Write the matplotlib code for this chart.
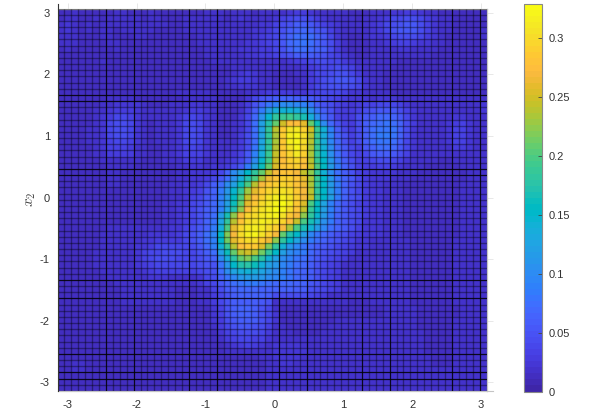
import numpy as np
import matplotlib
matplotlib.use("Agg")
import matplotlib.pyplot as plt
from matplotlib.colors import ListedColormap

plt.rcParams['font.family'] = ['Liberation Sans', 'DejaVu Sans']
plt.rcParams['mathtext.fontset'] = 'cm'

# values, top row first, in units of 0.005 above a small baseline
cell_unit = 0.005
baseline_units = 1
rows = [
[4,4,5,4,4,4,4,4,5,5,4,4,4,5,4,4,4,4,4,4,4,5, 5,5,4,5,5,5,4,5,5, 5,5,6,7,7,6,5,5,5,5,5,4,4,4, 5,5,5,6,6,7,7,6,5,5,4,4,4,4,4,4,4],
[4,5,5,4,4,5,4,5,5,5,5,5,4,5,5,4,4,4,5,5,5,5, 5,5,4,5,6,5,5,5,5, 6,8,9,10,10,9,7,6,5,5,5,5,4,5, 5,6,7,9,9,10,10,9,7,6,5,5,4,4,4,4,4],
[5,6,5,4,5,4,5,5,5,5,5,5,5,5,5,5,4,4,5,5,5,5, 5,5,5,5,5,5,5,6,6, 8,10,11,13,13,12,10,8,7,6,5,5,5,5, 6,7,9,10,11,12,12,10,8,6,5,5,4,4,4,4,4],
[5,6,5,4,5,4,5,5,4,5,5,5,5,5,4,4,4,4,5,5,5,5, 5,5,5,5,5,5,6,6,7, 9,11,13,14,15,14,12,11,8,6,5,5,5,5, 6,7,9,11,12,12,12,10,8,6,5,5,4,4,4,4,5],
[5,5,5,4,4,4,5,5,4,4,4,5,5,4,4,4,4,4,4,4,5,5, 5,5,5,5,5,5,6,7,8, 9,12,14,16,16,16,14,12,9,6,5,4,4,5, 6,6,7,9,10,10,10,9,7,6,5,4,4,4,4,4,5],
[5,5,5,4,4,4,4,5,5,4,4,4,4,4,4,4,4,4,4,4,5,5, 5,5,5,5,5,6,6,7,8, 9,12,15,16,17,16,14,12,10,7,5,4,4,4, 5,5,6,7,8,8,7,6,6,5,5,4,4,4,4,4,4],
[4,5,4,4,4,4,4,4,5,4,4,4,4,4,4,4,4,4,4,4,4,5, 5,5,5,5,6,6,6,7,7, 9,11,14,16,16,15,14,13,10,7,5,4,4,4, 5,5,5,5,6,6,5,5,5,5,4,4,4,4,4,4,4],
[4,4,4,4,4,4,4,4,4,4,4,4,4,4,4,4,4,4,4,4,4,5, 5,5,5,5,5,6,6,7,7, 8,10,11,13,13,13,12,11,9,8,6,5,4,4, 5,5,5,5,5,5,5,5,5,4,4,4,4,4,4,4,4],
[4,4,4,4,4,4,5,4,4,4,4,4,4,4,4,4,4,4,4,4,4,4, 5,5,5,5,5,5,5,5,5, 5,5,6,7,8,9,10,10,9,9,7,6,5,5, 5,5,5,5,4,4,4,4,4,4,4,4,4,4,4,4,4],
[4,4,4,4,4,4,4,4,4,4,4,4,4,4,4,4,4,4,4,4,4,4, 4,4,4,5,5,5,5,5,5, 5,5,5,5,6,7,8,9,9,10,9,8,6,5, 5,5,5,4,4,4,4,4,4,4,4,4,4,4,4,4,4],
[4,4,4,4,4,4,4,4,4,4,4,4,4,4,4,4,4,4,4,4,4,4, 4,4,4,5,6,7,6,5,5, 4,4,4,5,5,7,9,9,10,11,11,9,7,5, 5,5,4,4,4,4,4,4,4,4,4,4,4,4,4,4,4],
[4,4,4,4,4,4,4,4,4,4,4,4,4,4,4,4,4,4,4,4,4,4, 4,4,5,6,7,7,6,5,5, 4,4,4,4,5,7,8,10,11,12,12,11,9,6, 5,5,4,4,4,4,4,4,4,4,4,4,4,4,4,4,4],
[4,4,4,4,4,4,4,4,4,4,4,4,4,4,4,4,4,4,4,4,4,4, 4,4,5,5,6,6,6,5,5, 4,4,4,4,5,7,9,10,11,11,11,10,9,6, 5,5,4,4,4,4,4,4,4,4,4,4,4,4,4,4,4],
[4,4,4,4,4,4,4,4,4,4,4,4,4,4,4,4,4,5,5,5,5,5, 4,4,4,4,4,5,5,6,7, 7,7,7,6,6,8,8,9,9,9,8,6,6,5, 5,5,5,4,4,4,4,4,4,4,4,4,4,4,4,4,4],
[4,4,4,4,4,4,4,5,5,5,5,4,4,4,4,4,4,4,5,5,5,5, 5,4,4,4,4,6,9,11,12, 13,14,14,13,13,12,11,10,9,8,7,6,6,6, 5,6,6,6,5,5,5,5,5,5,5,5,5,5,5,5,5],
[4,4,4,4,4,4,5,5,6,6,6,6,5,4,4,4,5,5,5,6,6,5, 5,4,4,4,5,7,11,14,17, 19,21,21,20,19,17,13,11,10,8,7,6,7,8, 8,9,9,9,8,6,5,5,5,5,5,5,5,5,5,5,6],
[4,4,4,4,4,5,5,6,7,7,7,6,5,5,5,5,5,5,6,7,7,6, 5,4,4,4,5,8,13,18,24, 28,29,29,28,26,22,17,13,11,8,7,7,8,10, 11,12,12,12,10,8,6,5,5,5,5,5,5,5,5,5,6],
[4,4,4,4,4,5,6,7,9,9,8,6,5,5,5,5,5,6,8,9,8,6, 5,4,4,4,6,9,15,22,30, 37,39,40,38,34,28,21,15,12,8,7,7,10,12, 13,15,15,14,12,9,6,5,5,5,5,5,6,6,5,5,5],
[4,4,4,4,4,5,6,9,10,10,9,6,5,4,5,5,5,6,9,10,9,6, 5,4,4,5,6,9,16,25,35, 43,51,56,56,53,43,33,21,15,11,8,7,10,13, 15,16,17,16,14,10,7,5,5,5,5,6,7,8,6,5,5],
[4,4,4,4,5,5,6,9,10,10,9,6,5,4,5,5,5,6,9,10,9,6, 5,4,4,5,6,9,16,25,37, 49,58,62,63,59,51,39,29,19,13,9,7,10,13, 16,17,17,17,14,10,6,5,5,5,5,6,8,8,6,5,5],
[4,4,4,4,5,5,6,9,10,10,9,6,5,4,5,5,5,6,9,10,9,6, 5,4,4,5,7,10,16,25,37, 48,59,64,65,61,49,37,28,20,14,11,8,10,13, 16,18,18,17,14,10,6,5,5,5,5,6,8,8,6,5,5],
[4,4,4,4,5,5,6,8,9,9,8,6,5,4,5,5,5,6,9,10,9,6, 5,5,5,5,7,10,16,26,37, 48,58,64,65,61,49,37,28,20,15,11,8,10,13, 16,17,17,16,13,9,6,5,5,5,5,6,8,8,6,5,5],
[4,4,4,4,4,5,6,8,8,8,7,5,5,4,4,5,5,6,8,9,8,6, 5,5,5,6,7,10,17,27,38, 49,58,62,65,60,48,37,29,21,15,12,9,8,12, 14,16,16,15,12,9,6,5,5,5,5,5,7,7,6,5,5],
[4,4,4,4,4,5,5,7,7,7,7,5,5,4,4,5,5,6,8,8,8,6, 5,5,5,6,8,12,19,28,39, 50,57,60,63,59,48,38,30,22,16,12,9,8,9, 12,13,13,12,10,8,5,5,5,5,5,5,5,5,5,5,5],
[4,4,4,4,4,4,5,5,5,5,5,5,4,4,4,5,5,5,7,7,7,5, 5,5,6,7,9,13,21,30,40, 51,56,59,60,57,49,39,31,23,17,13,10,8,8, 9,10,10,9,8,6,5,5,5,5,4,4,5,5,5,5,5],
[4,4,4,4,4,4,4,5,5,5,5,4,4,4,4,4,4,5,5,6,6,5, 6,6,7,9,12,18,25,33,43, 52,57,58,59,56,50,41,32,24,18,14,11,8,7, 7,8,8,7,6,5,5,5,4,4,4,4,4,5,5,5,5],
[4,4,4,4,4,4,4,5,5,4,4,4,4,4,4,4,4,5,5,6,6,6, 7,9,14,21,25,31,37,43,50, 55,57,57,55,50,46,37,29,21,16,13,11,8,7, 6,6,6,6,5,5,5,4,4,4,4,4,4,4,5,5,5],
[4,4,4,4,4,4,4,5,5,4,4,4,4,4,4,4,4,5,5,6,6,7, 9,12,16,22,28,35,41,48,54, 57,59,59,57,53,48,39,31,23,17,14,12,9,7, 6,6,6,5,5,5,4,4,4,4,4,4,4,4,5,5,5],
[4,4,4,4,4,4,4,5,5,4,4,4,4,4,4,4,5,5,6,6,7,9, 13,16,21,25,33,41,49,55,58, 59,60,59,57,54,48,38,31,24,18,14,11,9,7, 6,6,5,5,5,4,4,4,4,4,4,4,4,5,5,5,5],
[4,4,4,4,4,4,4,4,4,4,4,4,4,4,4,4,5,5,6,7,8,11, 14,18,23,30,38,47,53,58,60, 61,62,61,58,55,49,38,31,24,18,14,11,9,7, 6,6,5,5,5,4,4,4,4,4,4,4,4,5,5,5,5],
[4,4,4,4,4,4,4,4,4,4,4,4,4,4,4,4,5,5,6,8,9,12, 14,19,24,32,41,50,56,59,62, 64,64,62,59,55,50,38,31,25,18,14,11,10,7, 6,6,5,5,5,4,4,4,4,4,4,4,4,5,5,5,5],
[4,4,4,4,4,4,4,4,4,4,4,4,4,4,4,5,5,6,6,9,10,12, 15,19,25,33,43,53,58,61,63, 65,66,63,58,52,41,32,26,19,15,12,10,8,7, 6,6,5,5,5,4,4,4,4,4,4,4,4,5,5,5,5],
[4,4,4,4,4,4,4,4,4,4,4,4,4,4,4,5,5,6,7,9,11,13, 15,19,26,35,46,56,60,62,64, 66,65,61,57,50,39,31,25,19,15,12,10,9,7, 6,6,5,5,5,4,4,4,4,4,4,4,4,5,5,5,5],
[4,4,4,4,4,4,4,4,4,4,4,4,4,4,4,5,5,6,7,9,11,13, 16,24,34,46,55,60,61,63,64, 65,62,58,55,46,37,30,24,18,14,12,10,9,7, 6,6,5,5,5,4,4,4,4,4,4,4,4,5,5,5,5],
[4,4,4,4,4,4,4,4,4,4,4,4,4,4,4,5,5,6,7,9,11,14, 17,26,37,49,57,61,62,64,63, 62,60,56,50,41,34,28,22,18,14,12,10,9,6, 6,6,5,5,5,4,4,4,4,4,4,4,4,5,5,5,5],
[4,4,4,4,4,4,4,5,5,5,5,5,5,5,5,5,6,6,8,10,12,14, 18,28,41,53,60,63,64,63,61, 59,55,48,41,34,29,24,20,16,14,12,10,8,6, 6,6,5,5,5,4,4,4,4,4,4,4,4,5,5,5,5],
[4,4,4,4,4,4,5,5,5,5,5,5,5,6,6,6,6,7,9,11,13,16, 20,31,45,55,61,64,65,62,59, 55,43,35,31,25,20,17,15,13,11,10,8,7,6, 6,6,5,5,5,4,4,4,4,4,4,4,4,5,5,5,5],
[4,4,4,4,4,4,5,5,5,5,5,5,6,6,7,7,7,7,9,11,13,16, 19,31,44,53,59,61,61,58,54, 46,37,31,26,21,18,16,14,12,11,9,8,6,6, 5,5,5,5,5,5,4,4,4,4,4,4,5,5,5,5,5],
[4,4,4,4,4,4,5,5,5,5,5,6,6,7,9,9,9,9,9,10,12,15, 19,29,39,49,56,58,58,52,45, 37,29,23,20,17,15,13,12,11,9,8,7,6,6, 5,5,5,5,5,5,4,4,4,4,4,4,5,5,5,5,5],
[4,4,4,4,4,5,5,5,5,5,5,6,8,9,9,10,10,10,9,9,11,13, 16,25,33,43,49,51,49,44,37, 31,25,21,19,18,15,13,11,10,9,8,7,5,5, 5,5,5,5,5,5,4,4,4,4,4,4,5,5,5,5,5],
[4,4,4,4,4,5,5,5,5,5,5,6,8,9,10,10,10,9,9,9,10,12, 14,21,28,36,43,45,41,36,29, 25,21,19,17,16,14,12,10,9,8,7,5,5,5, 5,5,5,5,5,5,4,4,4,4,4,4,5,5,5,5,5],
[4,4,4,4,4,5,5,5,5,5,5,6,7,8,9,9,9,9,9,9,10,11, 11,17,23,31,35,36,33,29,25, 23,20,18,16,15,13,11,9,8,7,5,5,5,5, 5,5,5,5,5,5,4,4,4,4,4,4,5,5,5,5,5],
[4,4,4,4,4,4,5,5,5,5,5,5,6,7,8,8,8,8,8,8,9,10, 11,16,21,26,28,29,28,26,23, 21,19,17,15,14,13,11,9,8,7,5,5,5,5, 5,5,5,5,5,5,4,4,4,4,4,4,5,5,5,5,5],
[4,4,4,4,4,4,4,5,5,5,5,5,5,6,6,6,5,5,5,5,6,9, 10,14,17,20,23,24,24,23,21, 20,19,17,15,14,13,11,9,8,7,5,5,5,5, 5,5,5,5,5,5,4,4,4,4,4,4,5,5,5,5,5],
[4,4,4,4,4,4,4,4,5,5,5,5,5,5,5,5,5,5,5,5,6,8, 9,12,14,16,17,18,18,17,16, 15,15,15,14,14,12,11,9,8,7,5,5,5,5, 5,5,5,5,5,5,4,4,4,4,4,4,5,5,5,5,5],
[4,4,4,4,4,4,4,4,4,5,5,5,5,5,5,5,5,4,4,4,5,5, 8,10,13,14,15,15,15,14,14, 14,14,14,13,13,11,10,9,8,7,5,5,5,5, 5,5,5,5,5,5,4,4,4,4,4,4,5,5,5,5,5],
[4,4,4,4,4,4,4,4,4,5,5,5,5,5,5,5,5,4,4,4,5,5, 7,9,11,13,14,14,14,14,13, 10,10,10,10,10,9,8,7,5,5,5,5,5,5, 5,5,5,5,5,5,4,4,4,4,4,4,5,5,5,5,5],
[4,4,4,4,4,4,4,4,4,5,5,5,5,5,5,5,5,4,4,4,5,5, 7,9,11,13,13,13,13,12,11, 5,5,5,5,5,5,5,5,5,5,5,4,4,4, 5,5,5,5,5,5,4,4,4,4,4,4,5,5,5,5,5],
[4,4,4,4,4,4,4,4,4,4,4,4,4,4,4,4,4,4,4,4,4,4, 6,8,11,13,14,14,13,11,9, 5,4,4,4,4,4,4,4,4,4,4,4,4,4, 4,4,5,5,5,5,5,4,4,4,4,4,4,5,5,5,5],
[4,4,4,4,4,4,4,4,4,4,4,4,4,4,4,4,4,4,4,4,4,4, 6,8,11,13,14,14,13,11,9, 6,4,4,4,4,4,4,4,4,4,4,4,4,4, 4,4,5,5,5,5,5,4,4,4,4,4,4,5,5,5,5],
[4,4,4,4,4,4,4,4,4,4,4,4,4,4,4,4,4,4,4,4,4,4, 6,7,10,12,13,13,13,11,9, 6,4,4,4,4,4,4,4,4,5,5,5,5,5, 5,5,5,5,5,5,5,4,4,4,4,4,5,5,5,5,5],
[4,4,4,4,4,4,4,4,4,4,4,4,4,4,4,4,4,4,4,4,4,4, 5,7,9,11,12,12,11,10,8, 5,5,4,4,4,4,4,4,5,5,5,5,5,5, 5,5,5,5,5,5,5,4,4,4,4,4,5,5,5,5,5],
[4,4,4,4,4,4,4,4,4,4,4,4,4,4,4,4,4,4,4,4,4,4, 4,6,8,9,10,10,10,9,7, 5,5,5,4,4,4,4,5,5,5,5,5,5,5, 5,5,5,5,5,5,5,5,4,4,4,4,5,5,5,5,5],
[4,4,4,4,4,4,4,4,4,4,4,4,4,4,4,4,4,4,4,4,4,4, 4,5,7,8,9,9,8,8,6, 5,5,5,5,5,5,5,5,5,5,5,5,5,5, 5,5,5,5,5,5,5,5,4,4,4,4,5,5,5,5,5],
[4,4,4,4,4,4,4,4,4,4,4,4,4,4,4,4,4,4,4,4,4,4, 4,4,5,6,7,8,7,6,5, 6,6,6,6,5,5,5,5,5,5,5,5,5,5, 5,5,5,5,5,5,5,5,4,4,4,4,5,5,5,5,5],
[4,4,4,4,4,4,4,4,4,4,4,4,4,4,4,4,4,4,4,4,4,4, 4,4,5,5,5,5,5,5,5, 6,6,6,6,6,5,5,5,5,5,5,5,5,5, 5,5,5,5,5,5,5,5,4,4,4,4,5,5,5,5,5],
[4,4,4,4,4,4,4,4,4,4,4,4,4,4,4,4,4,4,4,4,4,4, 4,4,4,4,4,4,4,5,5, 6,6,6,6,5,5,5,5,5,5,5,5,5,5, 5,5,5,5,5,5,5,5,5,4,4,4,5,5,5,5,5],
[4,4,5,5,4,4,4,4,4,4,4,4,4,4,4,4,4,4,4,4,4,4, 4,4,4,4,4,4,4,4,5, 5,6,6,5,5,5,5,5,5,5,5,5,5,5, 5,5,5,5,5,5,5,5,5,4,4,4,5,5,5,5,5],
[4,4,5,5,4,4,4,4,4,4,4,4,4,4,4,4,4,4,4,4,4,4, 4,4,4,4,4,4,4,4,5, 5,5,5,5,5,5,5,5,5,5,5,5,5,5, 5,5,5,5,5,5,5,5,5,5,5,5,5,5,5,5,5],
[4,4,4,4,4,4,4,4,4,4,4,4,4,4,4,4,4,4,4,4,4,4, 4,4,4,4,4,4,4,4,5, 5,5,5,5,5,5,5,5,5,5,5,5,5,5, 5,5,5,5,5,5,5,5,5,5,5,5,5,5,5,5,5],
[4,4,4,4,4,4,4,4,4,4,4,4,4,4,4,4,4,4,4,4,4,4, 4,4,4,4,4,4,4,4,5, 5,5,5,5,5,5,5,5,5,5,5,5,5,5, 5,5,5,5,5,5,5,5,5,5,5,5,5,5,5,5,5],
[4,4,4,4,4,4,4,4,4,4,4,4,4,4,4,4,4,4,4,4,4,4, 4,4,4,4,4,4,4,4,5, 5,5,5,5,5,5,5,5,5,5,5,5,5,5, 5,5,5,5,5,5,5,5,5,5,5,5,5,5,5,5,5],
]
x_ticks = [-3, -2, -1, 0, 1, 2, 3]
y_ticks = [-3, -2, -1, 0, 1, 2, 3]
cbar_ticks = [0, 0.05, 0.1, 0.15, 0.2, 0.25, 0.3]
cbar_labels = ['0', '0.05', '0.1', '0.15', '0.2', '0.25', '0.3']
dark_cols = [7, 11, 19, 23, 32, 36, 44, 48, 57, 61]
dark_rows = [14, 15, 26, 27, 44, 47, 56, 59, 60]

bad = [i for i, r in enumerate(rows) if len(r) != 62]
assert not bad and len(rows) == 62, f"bad rows {bad} n={len(rows)} {[len(rows[i]) for i in bad]}"

parula = ListedColormap([
(0.2422,0.1504,0.6603),(0.2504,0.1650,0.7076),(0.2578,0.1818,0.7511),(0.2647,0.1978,0.7952),
(0.2706,0.2147,0.8364),(0.2751,0.2342,0.8710),(0.2783,0.2559,0.8991),(0.2803,0.2782,0.9221),
(0.2813,0.3006,0.9414),(0.2810,0.3228,0.9579),(0.2795,0.3447,0.9717),(0.2760,0.3667,0.9829),
(0.2699,0.3892,0.9906),(0.2602,0.4123,0.9952),(0.2440,0.4358,0.9988),(0.2206,0.4603,0.9973),
(0.1963,0.4847,0.9892),(0.1834,0.5074,0.9798),(0.1786,0.5289,0.9682),(0.1764,0.5499,0.9520),
(0.1687,0.5703,0.9359),(0.1540,0.5902,0.9218),(0.1460,0.6091,0.9079),(0.1380,0.6276,0.8973),
(0.1248,0.6459,0.8883),(0.1113,0.6635,0.8763),(0.0952,0.6798,0.8598),(0.0689,0.6948,0.8394),
(0.0297,0.7082,0.8163),(0.0036,0.7203,0.7917),(0.0067,0.7312,0.7660),(0.0433,0.7411,0.7394),
(0.0964,0.7500,0.7120),(0.1408,0.7584,0.6842),(0.1717,0.7670,0.6554),(0.1938,0.7758,0.6251),
(0.2161,0.7843,0.5923),(0.2470,0.7918,0.5567),(0.2906,0.7973,0.5188),(0.3406,0.8008,0.4789),
(0.3909,0.8029,0.4354),(0.4456,0.8024,0.3909),(0.5044,0.7993,0.3480),(0.5616,0.7942,0.3045),
(0.6174,0.7876,0.2612),(0.6720,0.7793,0.2227),(0.7242,0.7698,0.1910),(0.7738,0.7598,0.1646),
(0.8203,0.7498,0.1535),(0.8634,0.7406,0.1596),(0.9035,0.7330,0.1774),(0.9393,0.7288,0.2100),
(0.9728,0.7298,0.2394),(0.9956,0.7434,0.2371),(0.9970,0.7659,0.2199),(0.9952,0.7861,0.1991),
(0.9892,0.8136,0.1885),(0.9786,0.8386,0.1766),(0.9676,0.8639,0.1643),(0.9610,0.8890,0.1537),
(0.9597,0.9135,0.1423),(0.9628,0.9373,0.1265),(0.9691,0.9606,0.1064),(0.9769,0.9839,0.0805)])

W, H = 598, 412
XL, XR, YT, YB = -3.148, 3.08, 3.068, -3.14
Z = (np.array(rows, dtype=float) - baseline_units) * cell_unit
x_edges = np.linspace(XL, XR, Z.shape[1] + 1)
y_edges = np.linspace(YT, YB, Z.shape[0] + 1)

fig = plt.figure(figsize=(W / 100, H / 100), dpi=100)
ax = fig.add_axes([57.5 / W, 1 - 391 / H, 429 / W, 382.5 / H])
mesh = ax.pcolormesh(x_edges, y_edges, Z, cmap=parula, vmin=0, vmax=0.329, shading='flat')

# cell outlines
reg_x = [x_edges[i] for i in range(len(x_edges)) if i not in dark_cols]
reg_y = [y_edges[i] for i in range(len(y_edges)) if i not in dark_rows]
ax.vlines(reg_x, YB, YT, colors='k', linewidth=1.0, alpha=0.38, zorder=3)
ax.hlines(reg_y, XL, XR, colors='k', linewidth=1.0, alpha=0.38, zorder=3)
ax.vlines([x_edges[i] for i in dark_cols], YB, YT, colors='k', linewidth=0.9, alpha=0.85, zorder=3)
ax.hlines([y_edges[i] for i in dark_rows], XL, XR, colors='k', linewidth=0.9, alpha=0.85, zorder=3)

ax.set_xlim(XL, XR)
ax.set_ylim(YB, YT)
ax.set_xticks(x_ticks)
ax.set_yticks(y_ticks)
ax.set_xticklabels([str(v) for v in x_ticks], fontsize=8, color='#333333')
ax.set_yticklabels([str(v) for v in y_ticks], fontsize=8, color='#333333')
ax.tick_params(axis='both', which='both', bottom=False, left=False, top=True, right=True,
               direction='out', length=4.0, width=0.6, color='#e4e4e4', pad=1.5)
ax.tick_params(axis='x', pad=2.7)
for s in ('top', 'right', 'bottom'):
    ax.spines[s].set_color('#c4c4c4')
    ax.spines[s].set_linewidth(0.9)
ax.spines['left'].set_visible(False)
ax.plot([0, 0], [0, 1.012], transform=ax.transAxes, color='#333333', lw=0.8, clip_on=False, zorder=5)
ax.plot([1, 1.015], [0, 0], transform=ax.transAxes, color='#c4c4c4', lw=0.8, clip_on=False, zorder=5)
ax.set_ylabel(r'$x_2$', fontsize=11, color='#444444', labelpad=1)

cax = fig.add_axes([524 / W, 1 - 391.5 / H, 18.3 / W, 387.5 / H])
cb = fig.colorbar(mesh, cax=cax)
cb.set_ticks(cbar_ticks)
cb.set_ticklabels(cbar_labels)
cb.ax.tick_params(direction='in', length=3, width=0.6, color='#444444', labelsize=8,
                  labelcolor='#333333', pad=4.5)
cb.outline.set_edgecolor('#888888')
cb.outline.set_linewidth(0.8)

fig.savefig('out.png', dpi=100)
